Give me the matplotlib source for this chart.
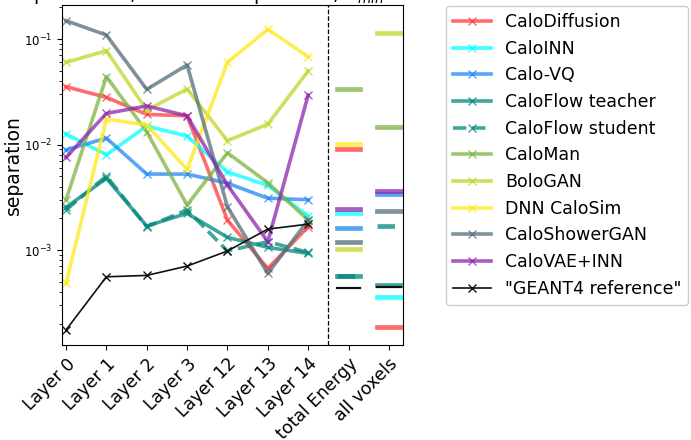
import numpy as np
import matplotlib
matplotlib.use("Agg")
import matplotlib.pyplot as plt

categories = ['Layer 0', 'Layer 1', 'Layer 2', 'Layer 3', 'Layer 12', 'Layer 13',
              'Layer 14', 'total Energy', 'all voxels']

models = ['CaloDiffusion', 'CaloINN', 'Calo-VQ', 'CaloFlow teacher', 'CaloFlow student',
          'CaloMan', 'BoloGAN', 'DNN CaloSim', 'CaloShowerGAN', 'CaloVAE+INN',
          '"GEANT4 reference"']

calodiffusion = [0.0353, 0.028, 0.0193, 0.0187, 0.00192, 0.00067, 0.00166, 0.00906, 0.000186]
caloinn = [0.0126, 0.0080, 0.0150, 0.0120, 0.0055, 0.0041, 0.0021, 0.00226, 0.000356]
calovq = [0.0089, 0.0115, 0.00525, 0.00525, 0.0043, 0.0031, 0.0030, 0.00163, 0.0034]
caloflow_teacher = [0.00254, 0.00478, 0.00169, 0.00223, 0.00132, 0.00106, 0.00093, 0.00057, 0.000462]
caloflow_student = [0.0024, 0.00504, 0.00166, 0.0024, 0.00098, 0.0012, 0.00095, 0.000567, 0.00168]
caloman = [0.0030, 0.044, 0.0132, 0.00267, 0.00835, 0.00434, 0.00192, 0.0336, 0.01466]
bologan = [0.060, 0.0775, 0.0212, 0.0336, 0.01086, 0.0156, 0.0498, 0.00102, 0.1148]
dnn_calosim = [0.000483, 0.01746, 0.0153, 0.00582, 0.060, 0.1236, 0.068, 0.01005, np.nan]
caloshowergan = [0.149, 0.109, 0.0333, 0.0568, 0.00257, 0.0006, 0.00192, 0.0012, 0.00233]
calovae_inn = [0.00755, 0.0197, 0.0232, 0.0187, 0.00413, 0.0012, 0.0294, 0.00247, 0.0036]
geant4 = [0.000175, 0.000558, 0.000575, 0.000705, 0.00098, 0.00158, 0.00176, 0.000436, 0.000443]

values = [calodiffusion, caloinn, calovq, caloflow_teacher, caloflow_student, caloman,
          bologan, dnn_calosim, caloshowergan, calovae_inn, geant4]

colors = ['#ff3b3b', '#00ffff', '#1e88f0', '#00897b', '#00897b', '#7cb342',
          '#c0d62a', '#ffe81a', '#546e7a', '#8e24aa', '#111111']
styles = ['-', '-', '-', '-', '--', '-', '-', '-', '-', '-', '-']

n_layers = 7

fig = plt.figure(figsize=(6.91, 4.40), dpi=100)
ax = fig.add_axes([62/691, 1-345/440, (403-62)/691, (345-5)/440])

x = np.arange(len(categories))
for name, vals, c, ls in zip(models, values, colors, styles):
    is_ref = name.startswith('"')
    lw = 1.2 if is_ref else 2.6
    alpha = 1.0 if is_ref else 0.75
    v = np.array(vals, dtype=float)
    ax.plot(x[:n_layers], v[:n_layers], color=c, ls=ls, lw=lw, alpha=alpha,
            marker='x', markersize=6, label=name)
    for xi in range(n_layers, len(categories)):
        if not np.isnan(v[xi]):
            ax.plot([x[xi] - 0.29, x[xi] + 0.29], [v[xi], v[xi]], color=c, ls=ls,
                    lw=lw + 0.8 if not is_ref else 1.6, alpha=alpha)

ax.axvline(6.5, color='black', ls='--', lw=0.9)
ax.set_yscale('log')
ax.set_ylim(1.26e-4, 0.21)
ax.set_xlim(-0.1, 8.35)
ax.set_xticks(x)
ax.set_xticklabels(categories, rotation=45, ha='right', rotation_mode='anchor', fontsize=12.5)
ax.tick_params(axis='y', labelsize=8.5)
ax.set_ylabel('separation', fontsize=13.5)
ax.yaxis.set_label_coords(-0.115, 0.53)

fig.text(384/691, 1-6/440, r'Energy dependence, dataset 1 - photons, $E_{min}$',
         ha='right', va='bottom', fontsize=14)

fig.legend(loc='upper left', bbox_to_anchor=(446/691, 1-6/440), fontsize=12.5,
           labelspacing=0.5, handlelength=2.2, borderaxespad=0, framealpha=1)

fig.savefig('out.png', dpi=100)
